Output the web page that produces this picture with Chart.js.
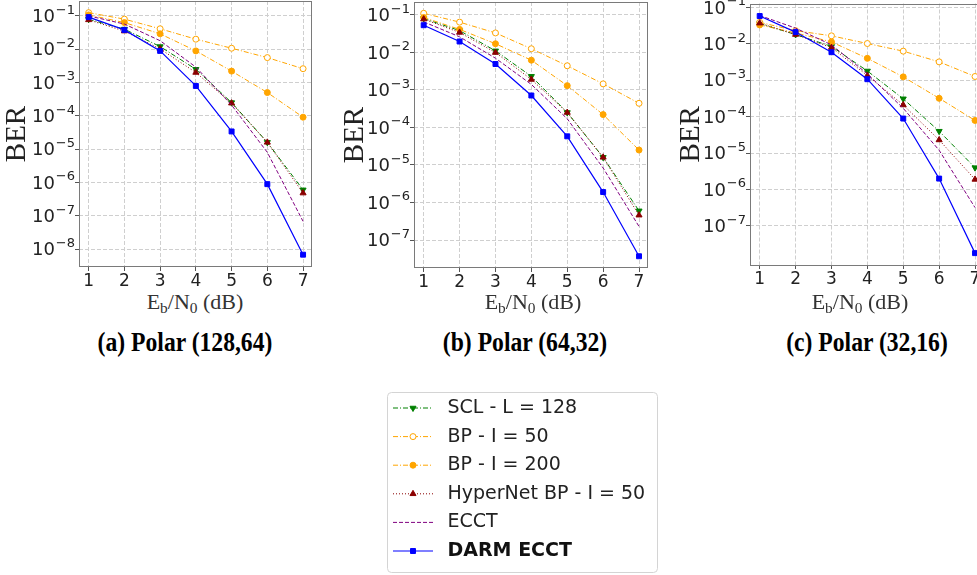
<!DOCTYPE html>
<html>
<head>
<meta charset="utf-8">
<script src="https://cdn.jsdelivr.net/npm/chart.js@4.4.1/dist/chart.umd.min.js"></script>
<style>
  html, body { margin: 0; padding: 0; background: #fff; }
  body { width: 977px; height: 575px; position: relative; overflow: hidden; }
  canvas { position: absolute; }
  .xlabel { position: absolute; top: 289px; font: 22px "Liberation Serif", serif; line-height: 25px; color: #333; transform: translateX(-50%); white-space: nowrap; }
  .xlabel sub { font-size: 70%; vertical-align: -4px; line-height: 0; }
  .caption { position: absolute; top: 327px; font: bold 27px "Liberation Serif", serif; line-height: 30px; color: #000; transform: translateX(-50%) scaleX(0.875); white-space: nowrap; }
</style>
</head>
<body>
<canvas id="chartA" width="320" height="289" style="left:0px;top:0px"></canvas>
<canvas id="chartB" width="321" height="290" style="left:335px;top:0px"></canvas>
<canvas id="chartC" width="321" height="287" style="left:671px;top:0px"></canvas>
<canvas id="legendChart" width="290" height="190" style="left:380px;top:385px"></canvas>

<div class="xlabel" style="left:195px">E<sub>b</sub>/N<sub>0</sub> (dB)</div>
<div class="xlabel" style="left:533px">E<sub>b</sub>/N<sub>0</sub> (dB)</div>
<div class="xlabel" style="left:860px">E<sub>b</sub>/N<sub>0</sub> (dB)</div>
<div class="caption" style="left:185px">(a) Polar (128,64)</div>
<div class="caption" style="left:525px">(b) Polar (64,32)</div>
<div class="caption" style="left:867px">(c) Polar (32,16)</div>

<script>
// Eb/N0 points (dB)
const snr = [1, 2, 3, 4, 5, 6, 7];
const seriesNames = ['SCL - L = 128', 'BP - I = 50', 'BP - I = 200', 'HyperNet BP - I = 50', 'ECCT', 'DARM ECCT'];

// (a) Polar (128,64)
const sclA = [0.079, 0.040, 0.012, 0.0025, 2.5e-4, 1.6e-5, 6.0e-7];
const bp50A = [0.125, 0.080, 0.041, 0.020, 0.0107, 0.0056, 0.0026];
const bp200A = [0.107, 0.063, 0.029, 0.0089, 0.0022, 5.0e-4, 9.1e-5];
const hyperA = [0.076, 0.035, 0.0102, 0.0020, 2.4e-4, 1.6e-5, 4.8e-7];
const ecctA = [0.100, 0.057, 0.018, 0.0029, 2.1e-4, 8.0e-6, 6.8e-8];
const darmA = [0.092, 0.038, 0.0089, 7.9e-4, 3.4e-5, 8.9e-7, 6.8e-9];

// (b) Polar (64,32)
const sclB = [0.080, 0.038, 0.011, 0.0023, 2.5e-4, 1.6e-5, 6.0e-7];
const bp50B = [0.110, 0.064, 0.033, 0.0125, 0.0044, 0.00145, 4.4e-4];
const bp200B = [0.085, 0.041, 0.017, 0.0062, 0.0013, 2.2e-4, 2.5e-5];
const hyperB = [0.077, 0.034, 0.0099, 0.0019, 2.5e-4, 1.6e-5, 4.6e-7];
const ecctB = [0.065, 0.026, 0.0070, 0.0014, 1.7e-4, 8.3e-6, 2.3e-7];
const darmB = [0.053, 0.0195, 0.0049, 7.1e-4, 5.8e-5, 1.9e-6, 3.7e-8];

// (c) Polar (32,16)
const sclC = [0.036, 0.018, 0.0085, 0.0018, 3.1e-4, 4.0e-5, 4.0e-6];
const bp50C = [0.039, 0.023, 0.0166, 0.0102, 0.0063, 0.0032, 0.00127];
const bp200C = [0.033, 0.020, 0.0113, 0.0040, 0.00124, 3.2e-4, 7.9e-5];
const hyperC = [0.037, 0.018, 0.0079, 0.00135, 2.1e-4, 2.3e-5, 1.9e-6];
const ecctC = [0.060, 0.027, 0.0094, 0.0015, 1.7e-4, 1.2e-5, 3.2e-7];
const darmC = [0.058, 0.021, 0.0059, 0.00107, 8.9e-5, 2.0e-6, 1.8e-8];

// y tick exponents and their labels (10 to the power shown)
const expA = [-1, -2, -3, -4, -5, -6, -7, -8];
const expLabelsA = ['\u22121', '\u22122', '\u22123', '\u22124', '\u22125', '\u22126', '\u22127', '\u22128'];
const expBC = [-1, -2, -3, -4, -5, -6, -7];
const expLabelsBC = ['\u22121', '\u22122', '\u22123', '\u22124', '\u22125', '\u22126', '\u22127'];

const boldIndex = 5;

const lineStyles = [
  { color: '#008000', dash: [5, 2, 1, 2], point: 'triangle', rotation: 180, radius: 3.5, fill: '#008000', width: 1 },
  { color: '#FFA500', dash: [5, 2, 1, 2], point: 'circle', rotation: 0, radius: 3, fill: '#ffffff', width: 1 },
  { color: '#FFA500', dash: [5, 2, 1, 2], point: 'circle', rotation: 0, radius: 3, fill: '#FFA500', width: 1 },
  { color: '#8B0000', dash: [1, 2], point: 'triangle', rotation: 0, radius: 3.5, fill: '#8B0000', width: 1 },
  { color: '#800080', dash: [4, 2], point: 'circle', rotation: 0, radius: 0, fill: '#800080', width: 1 },
  { color: '#0000FF', dash: [], point: 'rect', rotation: 0, radius: 3.5, fill: '#0000FF', width: 1.2 }
];

function buildDatasets(series) {
  return series.map((vals, i) => {
    const s = lineStyles[i];
    return {
      label: seriesNames[i],
      data: vals.map((v, j) => ({ x: snr[j], y: v })),
      borderColor: s.color,
      backgroundColor: s.fill,
      borderWidth: s.width,
      borderDash: s.dash,
      pointStyle: s.point,
      pointRotation: s.rotation,
      pointRadius: s.radius,
      pointBackgroundColor: s.fill,
      pointBorderColor: s.color,
      pointBorderWidth: 1,
      tension: 0,
      order: series.length - i
    };
  });
}

// box around the plot area
const framePlugin = {
  id: 'frame',
  afterDraw(chart) {
    const a = chart.chartArea;
    const ctx = chart.ctx;
    ctx.save();
    ctx.strokeStyle = '#7a7a7a';
    ctx.lineWidth = 1;
    ctx.setLineDash([]);
    ctx.strokeRect(Math.round(a.left) + 0.5, Math.round(a.top) + 0.5,
      Math.round(a.right - a.left) - 1, Math.round(a.bottom - a.top) - 1);
    ctx.restore();
  }
};

// y tick labels as 10 with a raised exponent, placed on the log scale's ticks
const expTickPlugin = {
  id: 'expTicks',
  afterDraw(chart, args, opts) {
    const scale = chart.scales.y;
    const ctx = chart.ctx;
    ctx.save();
    ctx.fillStyle = '#222';
    ctx.textAlign = 'left';
    ctx.textBaseline = 'middle';
    scale.ticks.forEach((t, i) => {
      const y = scale.getPixelForTick(i);
      const sup = opts.labels[i];
      ctx.font = '13px "DejaVu Sans"';
      const wSup = ctx.measureText(sup).width;
      ctx.font = '18px "DejaVu Sans"';
      const wBase = ctx.measureText('10').width;
      const right = scale.right - 4;
      ctx.fillText('10', right - wSup - wBase - 1, y + 1.5);
      ctx.font = '13px "DejaVu Sans"';
      ctx.fillText(sup, right - wSup, y - 5.5);
    });
    ctx.restore();
  }
};

function makeChart(id, series, yMin, yMax, exps, expLabels, pad, titlePad) {
  return new Chart(document.getElementById(id).getContext('2d'), {
    type: 'line',
    data: { datasets: buildDatasets(series) },
    options: {
      responsive: false,
      animation: false,
      layout: { padding: pad, autoPadding: false },
      plugins: {
        legend: { display: false },
        tooltip: { enabled: false },
        expTicks: { labels: expLabels }
      },
      scales: {
        x: {
          type: 'linear',
          min: 0.73,
          max: 7.25,
          afterBuildTicks: axis => { axis.ticks = snr.map(v => ({ value: v })); },
          afterFit: scale => {
            scale.height = 22;
            scale.paddingLeft = 0;
            scale.paddingRight = 0;
          },
          ticks: {
            autoSkip: false,
            maxRotation: 0,
            padding: 0,
            color: '#222',
            font: { family: 'DejaVu Sans', size: 17 },
            callback: v => String(v)
          },
          grid: { color: '#cfcfcf', lineWidth: 1, tickLength: 4, tickColor: '#555', tickBorderDash: [] },
          border: { display: false, dash: [4, 2] }
        },
        y: {
          type: 'logarithmic',
          min: yMin,
          max: yMax,
          afterBuildTicks: axis => { axis.ticks = exps.map(e => ({ value: Math.pow(10, e) })); },
          afterFit: scale => {
            scale.width = 79;
            scale.paddingTop = 0;
            scale.paddingBottom = 0;
          },
          ticks: {
            autoSkip: false,
            padding: 1,
            color: 'rgba(0,0,0,0)',
            font: { family: 'DejaVu Sans', size: 17 },
            callback: (v, i) => '10' + expLabels[i]
          },
          title: {
            display: true,
            text: 'BER',
            color: '#222',
            font: { family: 'Liberation Serif', size: 29 },
            padding: { top: titlePad, bottom: 0 }
          },
          grid: { color: '#cfcfcf', lineWidth: 1, tickLength: 4, tickColor: '#555', tickBorderDash: [] },
          border: { display: false, dash: [4, 2] }
        }
      }
    },
    plugins: [framePlugin, expTickPlugin]
  });
}

makeChart('chartA', [sclA, bp50A, bp200A, hyperA, ecctA, darmA], 2.9e-9, 0.28, expA, expLabelsA,
  { top: 1, right: 8, left: 0, bottom: 0 }, 0);
makeChart('chartB', [sclB, bp50B, bp200B, hyperB, ecctB, darmB], 1.8e-8, 0.22, expBC, expLabelsBC,
  { top: 2, right: 8, left: 0, bottom: 0 }, 2.5);
makeChart('chartC', [sclC, bp50C, bp200C, hyperC, ecctC, darmC], 8.5e-9, 0.128, expBC, expLabelsBC,
  { top: 3.5, right: 8, left: 0, bottom: 0 }, 2.5);

// legend: Chart.js lays out the rows, the samples are drawn over the empty boxes
const legendSamplePlugin = {
  id: 'legendSamples',
  afterDraw(chart) {
    const ctx = chart.ctx;
    const boxes = chart.legend.legendHitBoxes;
    ctx.save();
    ctx.strokeStyle = '#d4d4d4';
    ctx.lineWidth = 1;
    ctx.beginPath();
    ctx.roundRect(7.5, 7.5, 270, 180, 4);
    ctx.stroke();
    chart.data.datasets.forEach((ds, i) => {
      const hb = boxes[i];
      const y = hb.top + hb.height / 2;
      const x0 = hb.left;
      const x1 = hb.left + 40;
      ctx.strokeStyle = ds.borderColor;
      ctx.lineWidth = ds.borderWidth;
      ctx.setLineDash(ds.borderDash);
      ctx.beginPath();
      ctx.moveTo(x0, y);
      ctx.lineTo(x1, y);
      ctx.stroke();
      ctx.setLineDash([]);
      if (ds.pointRadius > 0) {
        ctx.fillStyle = ds.pointBackgroundColor;
        ctx.strokeStyle = ds.pointBorderColor;
        ctx.lineWidth = 1;
        Chart.helpers.drawPoint(ctx, {
          pointStyle: ds.pointStyle, rotation: ds.pointRotation, radius: ds.pointRadius, borderWidth: 1
        }, (x0 + x1) / 2, y);
      }
      if (i === boldIndex) {
        ctx.font = 'bold 19px "DejaVu Sans"';
        ctx.fillStyle = '#111';
        ctx.textAlign = 'left';
        ctx.textBaseline = 'middle';
        ctx.fillText(ds.label, hb.left + 45 + 9.5, y);
      }
    });
    ctx.restore();
  }
};

new Chart(document.getElementById('legendChart').getContext('2d'), {
  type: 'line',
  data: { datasets: buildDatasets([[], [], [], [], [], []]) },
  options: {
    responsive: false,
    animation: false,
    layout: { padding: { top: 3.9, left: 3.4 }, autoPadding: false },
    scales: { x: { display: false }, y: { display: false } },
    plugins: {
      tooltip: { enabled: false },
      legend: {
        position: 'top',
        align: 'start',
        maxHeight: 200,
        labels: {
          font: { family: 'DejaVu Sans', size: 19 },
          color: '#222',
          boxWidth: 45,
          boxHeight: 19,
          padding: 9.6,
          generateLabels: chart => chart.data.datasets.map((ds, i) => ({
            text: ds.label,
            fillStyle: 'rgba(0,0,0,0)',
            strokeStyle: 'rgba(0,0,0,0)',
            lineWidth: 0,
            fontColor: i === boldIndex ? 'rgba(0,0,0,0)' : '#222',
            hidden: false,
            datasetIndex: i
          }))
        }
      }
    }
  },
  plugins: [legendSamplePlugin]
});
</script>
</body>
</html>
